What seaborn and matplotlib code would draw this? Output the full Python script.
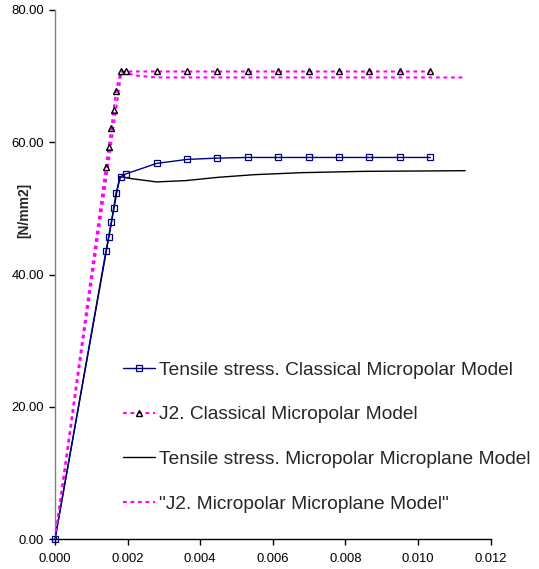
import matplotlib
matplotlib.use("Agg")
import matplotlib.pyplot as plt
import seaborn as sns
import pandas as pd
from matplotlib.ticker import FormatStrFormatter, MultipleLocator

# ---- data ----
strain_classical = [0, 0.001405, 0.001479, 0.001551, 0.001617, 0.00168, 0.00181,
                    0.001948, 0.0028, 0.003628, 0.004471, 0.005309, 0.006152,
                    0.006989, 0.007829, 0.008658, 0.009496, 0.01034]
tensile_classical = [0, 43.6, 45.7, 47.9, 50.1, 52.3, 54.8, 55.2, 56.8, 57.4,
                     57.6, 57.7, 57.7, 57.7, 57.7, 57.7, 57.7, 57.7]
j2_classical = [0, 56.3, 59.3, 62.1, 64.9, 67.8, 70.7, 70.7, 70.7, 70.7,
                70.7, 70.7, 70.7, 70.7, 70.7, 70.7, 70.7, 70.7]

strain_microplane = [0, 0.00178, 0.0021, 0.0028, 0.0036, 0.0045, 0.0055,
                     0.0068, 0.0085, 0.0100, 0.0113]
tensile_microplane = [0, 54.8, 54.5, 54.0, 54.2, 54.7, 55.1, 55.4, 55.6, 55.65, 55.7]

strain_j2_microplane = [0, 0.00183, 0.0022, 0.0028, 0.0113]
j2_microplane = [0, 70.7, 70.1, 69.8, 69.8]

labels = ["Tensile stress. Classical Micropolar Model",
          "J2. Classical Micropolar Model",
          "Tensile stress. Micropolar Microplane Model",
          "\"J2. Micropolar Microplane Model\""]

# ---- figure ----
sns.set_style("white")
plt.rcParams['font.family'] = ['Liberation Sans', 'DejaVu Sans']

fig = plt.figure(figsize=(5.39, 5.69), dpi=100)
ax = fig.add_axes([55 / 539, 1 - 539 / 569, 435.6 / 539, 529 / 569])

df_c = pd.DataFrame({"x": strain_classical, "t": tensile_classical, "j": j2_classical})
df_m = pd.DataFrame({"x": strain_microplane, "t": tensile_microplane})
df_mj = pd.DataFrame({"x": strain_j2_microplane, "j": j2_microplane})

sns.lineplot(data=df_m, x="x", y="t", ax=ax, sort=False, estimator=None,
             color="black", lw=1.0, label=labels[2], zorder=2)
sns.lineplot(data=df_mj, x="x", y="j", ax=ax, sort=False, estimator=None,
             color="#FF00FF", lw=1.5, linestyle=(0, (1.8, 1.8)), label=labels[3], zorder=2)
sns.lineplot(data=df_c, x="x", y="t", ax=ax, sort=False, estimator=None,
             color="#000080", lw=1.0, marker="s", markersize=5,
             markerfacecolor="none", markeredgecolor="#000080", markeredgewidth=0.9,
             label=labels[0], zorder=3, clip_on=False)
sns.lineplot(data=df_c, x="x", y="j", ax=ax, sort=False, estimator=None,
             color="#FF00FF", lw=1.5, linestyle=(0, (1.8, 1.8)), marker="^", markersize=5,
             markerfacecolor="none", markeredgecolor="black", markeredgewidth=1.0,
             label=labels[1], zorder=3)

ax.set_xlim(0, 0.012)
ax.set_ylim(0, 80)
ax.xaxis.set_major_locator(MultipleLocator(0.002))
ax.yaxis.set_major_locator(MultipleLocator(20))
ax.xaxis.set_major_formatter(FormatStrFormatter("%.3f"))
ax.yaxis.set_major_formatter(FormatStrFormatter("%.2f"))

for s in ["top", "right"]:
    ax.spines[s].set_visible(False)
ax.spines["left"].set_color("#808080")
ax.spines["left"].set_linewidth(1.0)
ax.spines["bottom"].set_color("black")
ax.spines["bottom"].set_linewidth(1.0)

ax.tick_params(axis="both", which="major", labelsize=9.4, length=4, width=1,
               direction="out", bottom=True, left=True, colors="black")
ax.tick_params(axis="x", pad=6)
ax.tick_params(axis="y", pad=4)

ax.set_xlabel("")
ax.set_ylabel("[N/mm2]", fontsize=10, fontweight="bold")
ax.yaxis.set_label_coords(-0.055, (539 - 210) / 529)

handles, labs = ax.get_legend_handles_labels()
order = [labs.index(l) for l in labels]
leg = ax.legend([handles[i] for i in order], [labs[i] for i in order],
                loc="center left", bbox_to_anchor=(122.7 / 539, 1 - 437 / 569),
                bbox_transform=fig.transFigure, frameon=False, fontsize=13.8,
                handlelength=1.68, handletextpad=0.2, labelspacing=1.42,
                borderpad=0, borderaxespad=0)

fig.savefig("out.png", dpi=100)
